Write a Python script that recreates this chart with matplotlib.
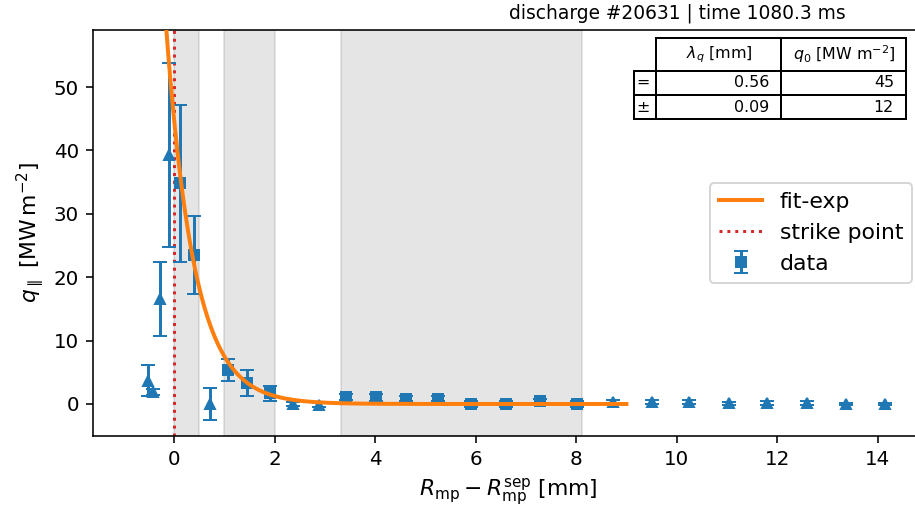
import numpy as np
import matplotlib
matplotlib.use('Agg')
import matplotlib.pyplot as plt

# measured points (triangles / squares), values in MW m^-2
tri_x = [-0.51, -0.42, -0.28, -0.09, 0.72, 2.37, 2.89, 8.74, 9.50, 10.25, 11.04, 11.80, 12.60, 13.37, 14.15]
tri_q = [3.7, 1.9, 16.5, 39.3, 0.0, 0.0, -0.2, 0.3, 0.3, 0.3, 0.1, 0.2, 0.2, 0.0, 0.0]
tri_err = [2.4, 0.5, 5.85, 14.5, 2.45, 0.3, 0.3, 0.4, 0.3, 0.3, 0.2, 0.3, 0.3, 0.2, 0.2]

sq_x = [0.12, 0.40, 1.07, 1.46, 1.91, 3.42, 4.01, 4.61, 5.26, 5.90, 6.60, 7.28, 8.01]
sq_q = [34.8, 23.5, 5.4, 3.3, 1.7, 1.15, 1.05, 0.8, 0.8, 0.0, 0.0, 0.4, 0.0]
sq_err = [12.4, 6.2, 1.7, 2.05, 1.2, 0.5, 0.5, 0.4, 0.4, 0.4, 0.4, 0.4, 0.4]

# shaded regions [mm]
spans = [(0.0, 0.5), (1.0, 2.0), (3.33, 8.11)]

# fit parameters (table)
lam_q = [0.56, 0.09]
q0 = [45, 12]
fit_range = (-0.86, 9.0)

title = 'discharge #20631 | time 1080.3 ms'

dpi = 143
fig = plt.figure(figsize=(915 / dpi, 515 / dpi), dpi=dpi)
ax = fig.add_axes([93 / 915, 1 - 436 / 515, 830 / 915, 406 / 515])

for a, b in spans:
    ax.axvspan(a, b, color='gray', alpha=0.2, zorder=0)

fit_x = np.linspace(fit_range[0], fit_range[1], 400)
ax.plot(fit_x, q0[0] * np.exp(-fit_x / lam_q[0]), color='C1', lw=2, label='fit-exp', zorder=3)
ax.axvline(0, color='tab:red', ls=':', lw=1.5, label='strike point', zorder=2)

ax.errorbar(tri_x, tri_q, yerr=tri_err, fmt='^', color='C0', ms=5.5, capsize=3.5, zorder=2.5)
ax.errorbar(sq_x, sq_q, yerr=sq_err, fmt='s', color='C0', ms=5, capsize=3.5, label='data', zorder=2.5)

ax.set_xlim(-1.611, 14.90)
ax.set_ylim(-5.05, 59.0)
ax.set_xticks([0, 2, 4, 6, 8, 10, 12, 14])
ax.set_xlabel(r'$R_\mathrm{mp} - R_\mathrm{mp}^\mathrm{sep}$ [mm]', fontsize=11)
ax.set_ylabel(r'$q_\parallel$ [MW$\,$m$^{-2}$]', fontsize=11)
ax.set_title(title, x=0.7036, fontsize=9.4)

ax.legend(loc='center right', fontsize=11)

cell_text = [['%.2f' % lam_q[0], '%d' % q0[0]],
             ['%.2f' % lam_q[1], '%d' % q0[1]]]
tab = ax.table(cellText=cell_text, rowLabels=['=', '\u00b1'],
               colLabels=[r'$\lambda_q$ [mm]', r'$q_0$ [MW m$^{-2}$]'],
               colWidths=[0.1506, 0.1506], loc='upper right')
tab.auto_set_font_size(False)
tab.set_fontsize(8)
tab._autoColumns = []
for (r, c), cell in tab.get_celld().items():
    if c == -1:
        cell.set_width(0.0265)
    if r == 0:
        cell.set_height(0.08)
        cell.get_text().set_ha('center')
        cell._loc = 'center'
    else:
        cell.set_height(0.06)

fig.savefig('out.png', dpi=dpi)
